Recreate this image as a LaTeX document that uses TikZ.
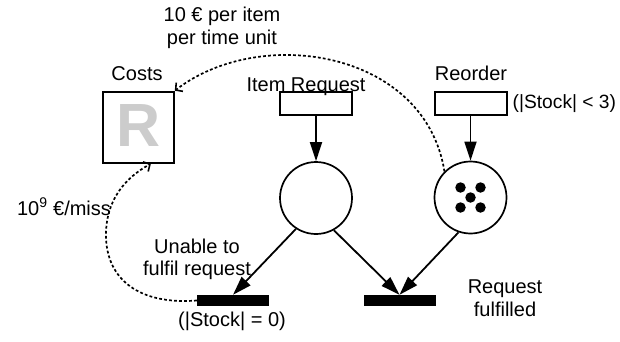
\documentclass[tikz,border=0pt]{standalone}
\usepackage{fontspec}
\setmainfont{Liberation Sans}
\usetikzlibrary{arrows.meta}
\definecolor{rgray}{RGB}{204,204,204}
\begin{document}
\begin{tikzpicture}[x=1pt,y=-1pt,
  lbl/.style={font=\fontsize{20}{23}\selectfont, inner sep=0pt, anchor=base},
  place/.style={circle, draw, line width=1.7pt, minimum size=72pt, inner sep=0pt},
  trans/.style={rectangle, draw, line width=2pt, minimum width=72pt, minimum height=23pt, inner sep=0pt},
  bar/.style={rectangle, fill=black, minimum width=72pt, minimum height=11pt, inner sep=0pt},
  token/.style={circle, fill=black, minimum size=10.5pt, inner sep=0pt},
  arc/.style={line width=1.8pt, -{Triangle[length=19pt,width=12pt]}},
  costarc/.style={line width=1.7pt, dash pattern=on 2.8pt off 2.2pt, -{Straight Barb[length=5pt,width=11pt,line width=1.6pt]}}
]
\useasboundingbox (0,0) rectangle (620,342);

% cost box
\node[rectangle, draw, line width=2pt, minimum size=71pt, inner sep=0pt] (costs) at (138.3,127.2) {};
\node[font=\fontsize{61}{61}\selectfont\bfseries, text=rgray, inner sep=0pt, anchor=base] (rmark) at (138.5,146) {R};

% transitions with inputs
\node[trans] (ireq) at (316,103.5) {};
\node[trans] (reo) at (470.5,103.5) {};

% places
\node[place] (p1) at (316,198) {};
\node[place] (p2) at (470.5,197.5) {};
\node[token] (k1) at (460.5,187.5) {};
\node[token] (k2) at (480.5,187.5) {};
\node[token] (k3) at (470.5,197.5) {};
\node[token] (k4) at (460.5,207.5) {};
\node[token] (k5) at (480.5,207.5) {};

% output transitions
\node[bar] (t1) at (233,300.5) {};
\node[bar] (t2) at (399.5,300.5) {};

% flow arcs
\draw[arc] (ireq.south) -- (p1.north);
\draw[arc] (reo.south) -- (p2.north);
\draw[arc] (p1.237) -- (t1.north);
\draw[arc] (p1.299) -- (t2.north);
\draw[arc] (p2.251) -- (t2.north);

% cost arcs
\draw[costarc] (p2.135) .. controls (425,50) and (260,25) .. (costs.north east);
\draw[costarc] (t1.west) .. controls (140,305) and (106,280) .. (106,235)
  .. controls (106,200) and (125,178) .. (costs.289);

% labels
\node[lbl] (costlabel) at (137,81) {Costs};
\node[lbl] (ireqlabel) at (306,92) {Item Request};
\node[lbl] (reolabel) at (471,81) {Reorder};
\node[lbl, font=\fontsize{19.2}{23}\selectfont, anchor=base west] (guard3) at (512.5,108) {(|Stock| < 3)};
\node[lbl] (rate1) at (222,22) {10 € per item};
\node[lbl] (rate2) at (222,45) {per time unit};
\node[lbl] (miss) at (64,215) {10\textsuperscript{9} €/miss};
\node[lbl] (unable1) at (197,253) {Unable to};
\node[lbl] (unable2) at (197,275) {fulfil request};
\node[lbl] (guard0) at (232,326) {(|Stock| = 0)};
\node[lbl] (ful1) at (505,293) {Request};
\node[lbl] (ful2) at (505,316) {fulfilled};
\end{tikzpicture}
\end{document}
